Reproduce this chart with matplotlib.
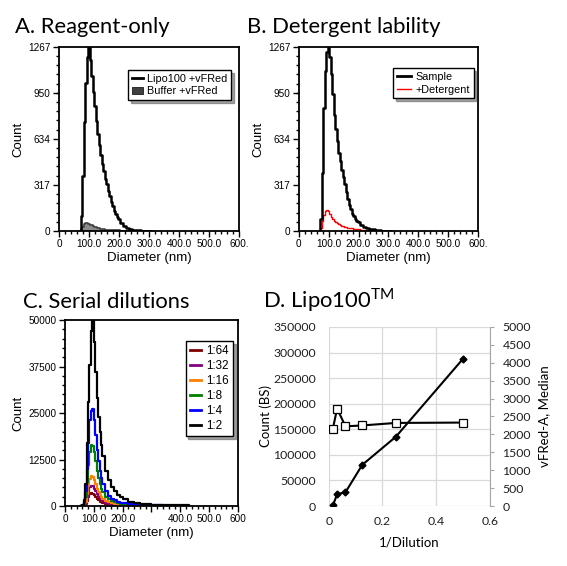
import numpy as np
import matplotlib
matplotlib.use("Agg")
import matplotlib.pyplot as plt
from matplotlib.ticker import MultipleLocator, FixedLocator
from matplotlib.lines import Line2D
from matplotlib.patches import Patch

# ---------------- data ----------------
# Panels A and B: diameter bins (nm) and counts
diam_ab = [70, 75, 80, 85, 90, 95, 100, 105, 110, 115, 120, 125, 130, 135, 140, 145,
           150, 155, 160, 165, 170, 175, 180, 185, 190, 195, 200, 210, 220, 230, 240,
           250, 260, 270, 280, 290, 300, 310]
lipo_vfred = [0, 100, 380, 750, 1020, 1200, 1267, 1180, 1070, 960, 860, 760, 670, 590,
              520, 460, 410, 360, 320, 275, 240, 200, 170, 140, 115, 95, 80, 55, 35, 22,
              14, 8, 5, 3, 2, 1, 1, 0]
buffer_vfred = [0, 10, 30, 45, 52, 55, 50, 44, 38, 33, 28, 24, 20, 17, 14, 12, 10, 9, 8,
                7, 6, 5, 5, 4, 4, 3, 3, 2, 2, 1, 1, 1, 0, 0, 0, 0, 0, 0]
sample_b = [0, 80, 400, 850, 1100, 1230, 1267, 1200, 1080, 940, 800, 700, 620, 540, 480,
            420, 370, 320, 270, 220, 180, 150, 120, 100, 80, 70, 60, 40, 28, 20, 15, 10,
            6, 4, 2, 1, 1, 0]
detergent_b = [0, 20, 70, 110, 135, 145, 140, 120, 95, 80, 70, 60, 52, 45, 40, 35, 32,
               28, 25, 22, 20, 18, 17, 15, 13, 11, 10, 7, 5, 4, 3, 2, 1, 1, 0, 0, 0, 0]

# Panel C: serial dilutions
diam_c = [55, 60, 65, 70, 75, 80, 85, 90, 95, 100, 105, 110, 115, 120, 125, 130, 140,
          150, 160, 170, 180, 190, 200, 220, 240, 260, 280, 300, 340, 380, 430]
dil_labels = ["1:64", "1:32", "1:16", "1:8", "1:4", "1:2"]
dil_colors = ["#800000", "#800080", "#ff8000", "#008000", "#0000ff", "#000000"]
c_1_64 = [0, 20, 130, 500, 1400, 2500, 3200, 3500, 3300, 2900, 2400, 1900, 1500, 1200,
          950, 750, 520, 380, 280, 210, 160, 130, 100, 70, 50, 35, 25, 18, 12, 6, 0]
c_1_32 = [0, 30, 200, 800, 2200, 3800, 5000, 5500, 5300, 4700, 3900, 3100, 2500, 2000,
          1600, 1300, 900, 650, 480, 360, 280, 220, 180, 120, 80, 55, 40, 30, 20, 10, 0]
c_1_16 = [0, 50, 300, 1200, 3200, 5500, 7200, 8000, 7800, 7000, 5800, 4600, 3700, 3000,
          2400, 1900, 1300, 950, 700, 520, 400, 320, 260, 170, 120, 80, 60, 40, 30, 15, 0]
c_1_8 = [0, 100, 600, 2500, 6500, 11000, 14500, 16500, 16200, 14500, 12000, 9500, 7500,
         6000, 4700, 3700, 2500, 1800, 1300, 1000, 750, 600, 500, 330, 230, 160, 120, 90,
         60, 30, 0]
c_1_4 = [0, 200, 1000, 4000, 10000, 17000, 23000, 25500, 26000, 23000, 19000, 15000,
         12000, 9500, 7500, 6000, 4000, 2800, 2000, 1500, 1100, 900, 750, 500, 350, 250,
         200, 150, 100, 50, 0]
c_1_2 = [0, 300, 1500, 6000, 17000, 28000, 38000, 47000, 50000, 44000, 36000, 29000,
         24000, 20000, 16500, 13500, 9500, 7000, 5200, 3900, 3000, 2400, 1900, 1200, 850,
         600, 500, 400, 250, 200, 0]
c_series = [c_1_64, c_1_32, c_1_16, c_1_8, c_1_4, c_1_2]

# Panel D
dilution = [64, 32, 16, 8, 4, 2]
count_bs = [1000, 23000, 27000, 80500, 135500, 288000]
vfred_median = [2160, 2720, 2225, 2250, 2320, 2330]

hist_xticklabels_ab = ["0", "100.0", "200.0", "300.0", "400.0", "500.0", "600."]
hist_xticklabels_c = ["0", "100.0", "200.0", "", "400.0", "500.0", "600"]

# ---------------- style ----------------
SANS = ["Liberation Sans", "DejaVu Sans"]
TITLE = ["Lato", "DejaVu Sans"]
plt.rcParams["font.family"] = SANS

fig = plt.figure(figsize=(5.67, 5.66), dpi=100)

def style_hist(ax, ymax, yticks, yminor, xlabels):
    ax.set_xlim(0, 600)
    ax.set_ylim(0, ymax)
    ax.xaxis.set_major_locator(FixedLocator([0, 100, 200, 300, 400, 500, 600]))
    ax.set_xticklabels(xlabels)
    ax.xaxis.set_minor_locator(MultipleLocator(20))
    ax.yaxis.set_major_locator(FixedLocator(yticks))
    ax.yaxis.set_minor_locator(MultipleLocator(yminor))
    ax.set_yticklabels([str(t) for t in yticks])
    ax.tick_params(which="major", direction="out", length=4, width=1, labelsize=7.2, pad=2)
    ax.tick_params(which="minor", direction="out", length=2.5, width=1)
    for s in ax.spines.values():
        s.set_linewidth(1.3)
    ax.set_xlabel("Diameter (nm)", fontsize=9.5, labelpad=2)
    ax.set_ylabel("Count", fontsize=9.5, labelpad=3)

def legend(ax, handles, labels, anchor, fs, hl):
    leg = ax.legend(handles, labels, loc="upper right", bbox_to_anchor=anchor,
                    fontsize=fs, frameon=True, fancybox=False, shadow=True,
                    edgecolor="black", framealpha=1, handlelength=hl,
                    handletextpad=0.4, borderpad=0.35, labelspacing=0.25,
                    borderaxespad=0)
    leg.get_frame().set_linewidth(1.0)
    return leg

# Panel A
axA = fig.add_axes([0.104, 0.592, 0.3175, 0.325])
axA.fill_between(diam_ab, buffer_vfred, step="mid", color="#8c8c8c", lw=0)
axA.step(diam_ab, buffer_vfred, where="mid", color="#404040", lw=1.2)
axA.step(diam_ab, lipo_vfred, where="mid", color="black", lw=1.8)
style_hist(axA, 1267, [0, 317, 634, 950, 1267], 63.4, hist_xticklabels_ab)
hA = [Line2D([], [], color="black", lw=2), Patch(facecolor="#404040", edgecolor="black", lw=0.5)]
legend(axA, hA, ["Lipo100 +vFRed", "Buffer +vFRed"], (0.955, 0.875), 7.8, 1.0)

# Panel B
axB = fig.add_axes([0.527, 0.592, 0.316, 0.325])
axB.step(diam_ab, detergent_b, where="mid", color="#ff0000", lw=1.0)
axB.step(diam_ab, sample_b, where="mid", color="black", lw=1.8)
style_hist(axB, 1267, [0, 317, 634, 950, 1267], 63.4, hist_xticklabels_ab)
hB = [Line2D([], [], color="black", lw=2), Line2D([], [], color="#ff0000", lw=1)]
legend(axB, hB, ["Sample", "+Detergent"], (0.975, 0.885), 7.8, 1.3)

# Panel C
axC = fig.add_axes([0.1146, 0.106, 0.305, 0.3286])
for vals, col in zip(c_series, dil_colors):
    axC.step(diam_c, vals, where="post", color=col, lw=1.6)
style_hist(axC, 50000, [0, 12500, 25000, 37500, 50000], 2500, hist_xticklabels_c)
hC = [Line2D([], [], color=c, lw=2) for c in dil_colors]
legend(axC, hC, dil_labels, (0.97, 0.885), 8.4, 1.0)

# Panel D
axD = fig.add_axes([0.5797, 0.106, 0.2845, 0.3163])
axD2 = axD.twinx()
inv_dil = [1.0 / d for d in dilution]
axD.set_xlim(0, 0.6)
axD.set_ylim(0, 350000)
axD.set_xticks([0, 0.2, 0.4, 0.6])
axD.set_xticklabels(["0", "0.2", "0.4", "0.6"])
axD.set_yticks(np.arange(0, 350001, 50000))
axD.set_yticklabels([str(v) for v in range(0, 350001, 50000)])
axD.grid(True, color="#d9d9d9", lw=0.9)
axD.set_axisbelow(True)
for s in axD.spines.values():
    s.set_visible(False)
axD.tick_params(axis="y", length=0, labelsize=8.8, pad=9, colors="#202020")
axD.tick_params(axis="x", length=0, labelsize=8.8, pad=7, colors="#202020")
axD2.set_ylim(0, 5000)
axD2.set_yticks(np.arange(0, 5001, 500))
for k, s in axD2.spines.items():
    s.set_visible(k == "right")
axD2.spines["right"].set_color("#a6a6a6")
axD2.tick_params(axis="y", length=3, color="#a6a6a6", labelsize=8.8, pad=6, labelcolor="#202020")
axD.plot(inv_dil, count_bs, color="black", lw=1.5, marker="D", ms=3.5, zorder=3)
axD2.plot(inv_dil, vfred_median, color="black", lw=1.5, marker="s", ms=5.5,
          markerfacecolor="white", markeredgewidth=0.9, zorder=3)
for t in axD.get_xticklabels() + axD.get_yticklabels() + axD2.get_yticklabels():
    t.set_fontfamily(TITLE)
axD.set_xlabel("1/Dilution", fontsize=9.5, family=TITLE, labelpad=7)
axD.set_ylabel("Count (BS)", fontsize=9.5, family=TITLE, labelpad=1)
axD2.set_ylabel("vFRed-A, Median", fontsize=9.5, family=TITLE, labelpad=5)

# Titles
TS = 15.8
fig.text(15 / 567, 1 - 33 / 566, "A. Reagent-only", fontsize=TS, family=TITLE, va="baseline")
fig.text(247 / 567, 1 - 33 / 566, "B. Detergent lability", fontsize=TS, family=TITLE, va="baseline")
fig.text(23 / 567, 1 - 308 / 566, "C. Serial dilutions", fontsize=TS, family=TITLE, va="baseline")
fig.text(263 / 567, 1 - 308 / 566, r"D. Lipo100$^{\mathregular{TM}}$", fontsize=TS, family=TITLE,
         va="baseline")

fig.savefig("out.png", dpi=100, facecolor="white")
